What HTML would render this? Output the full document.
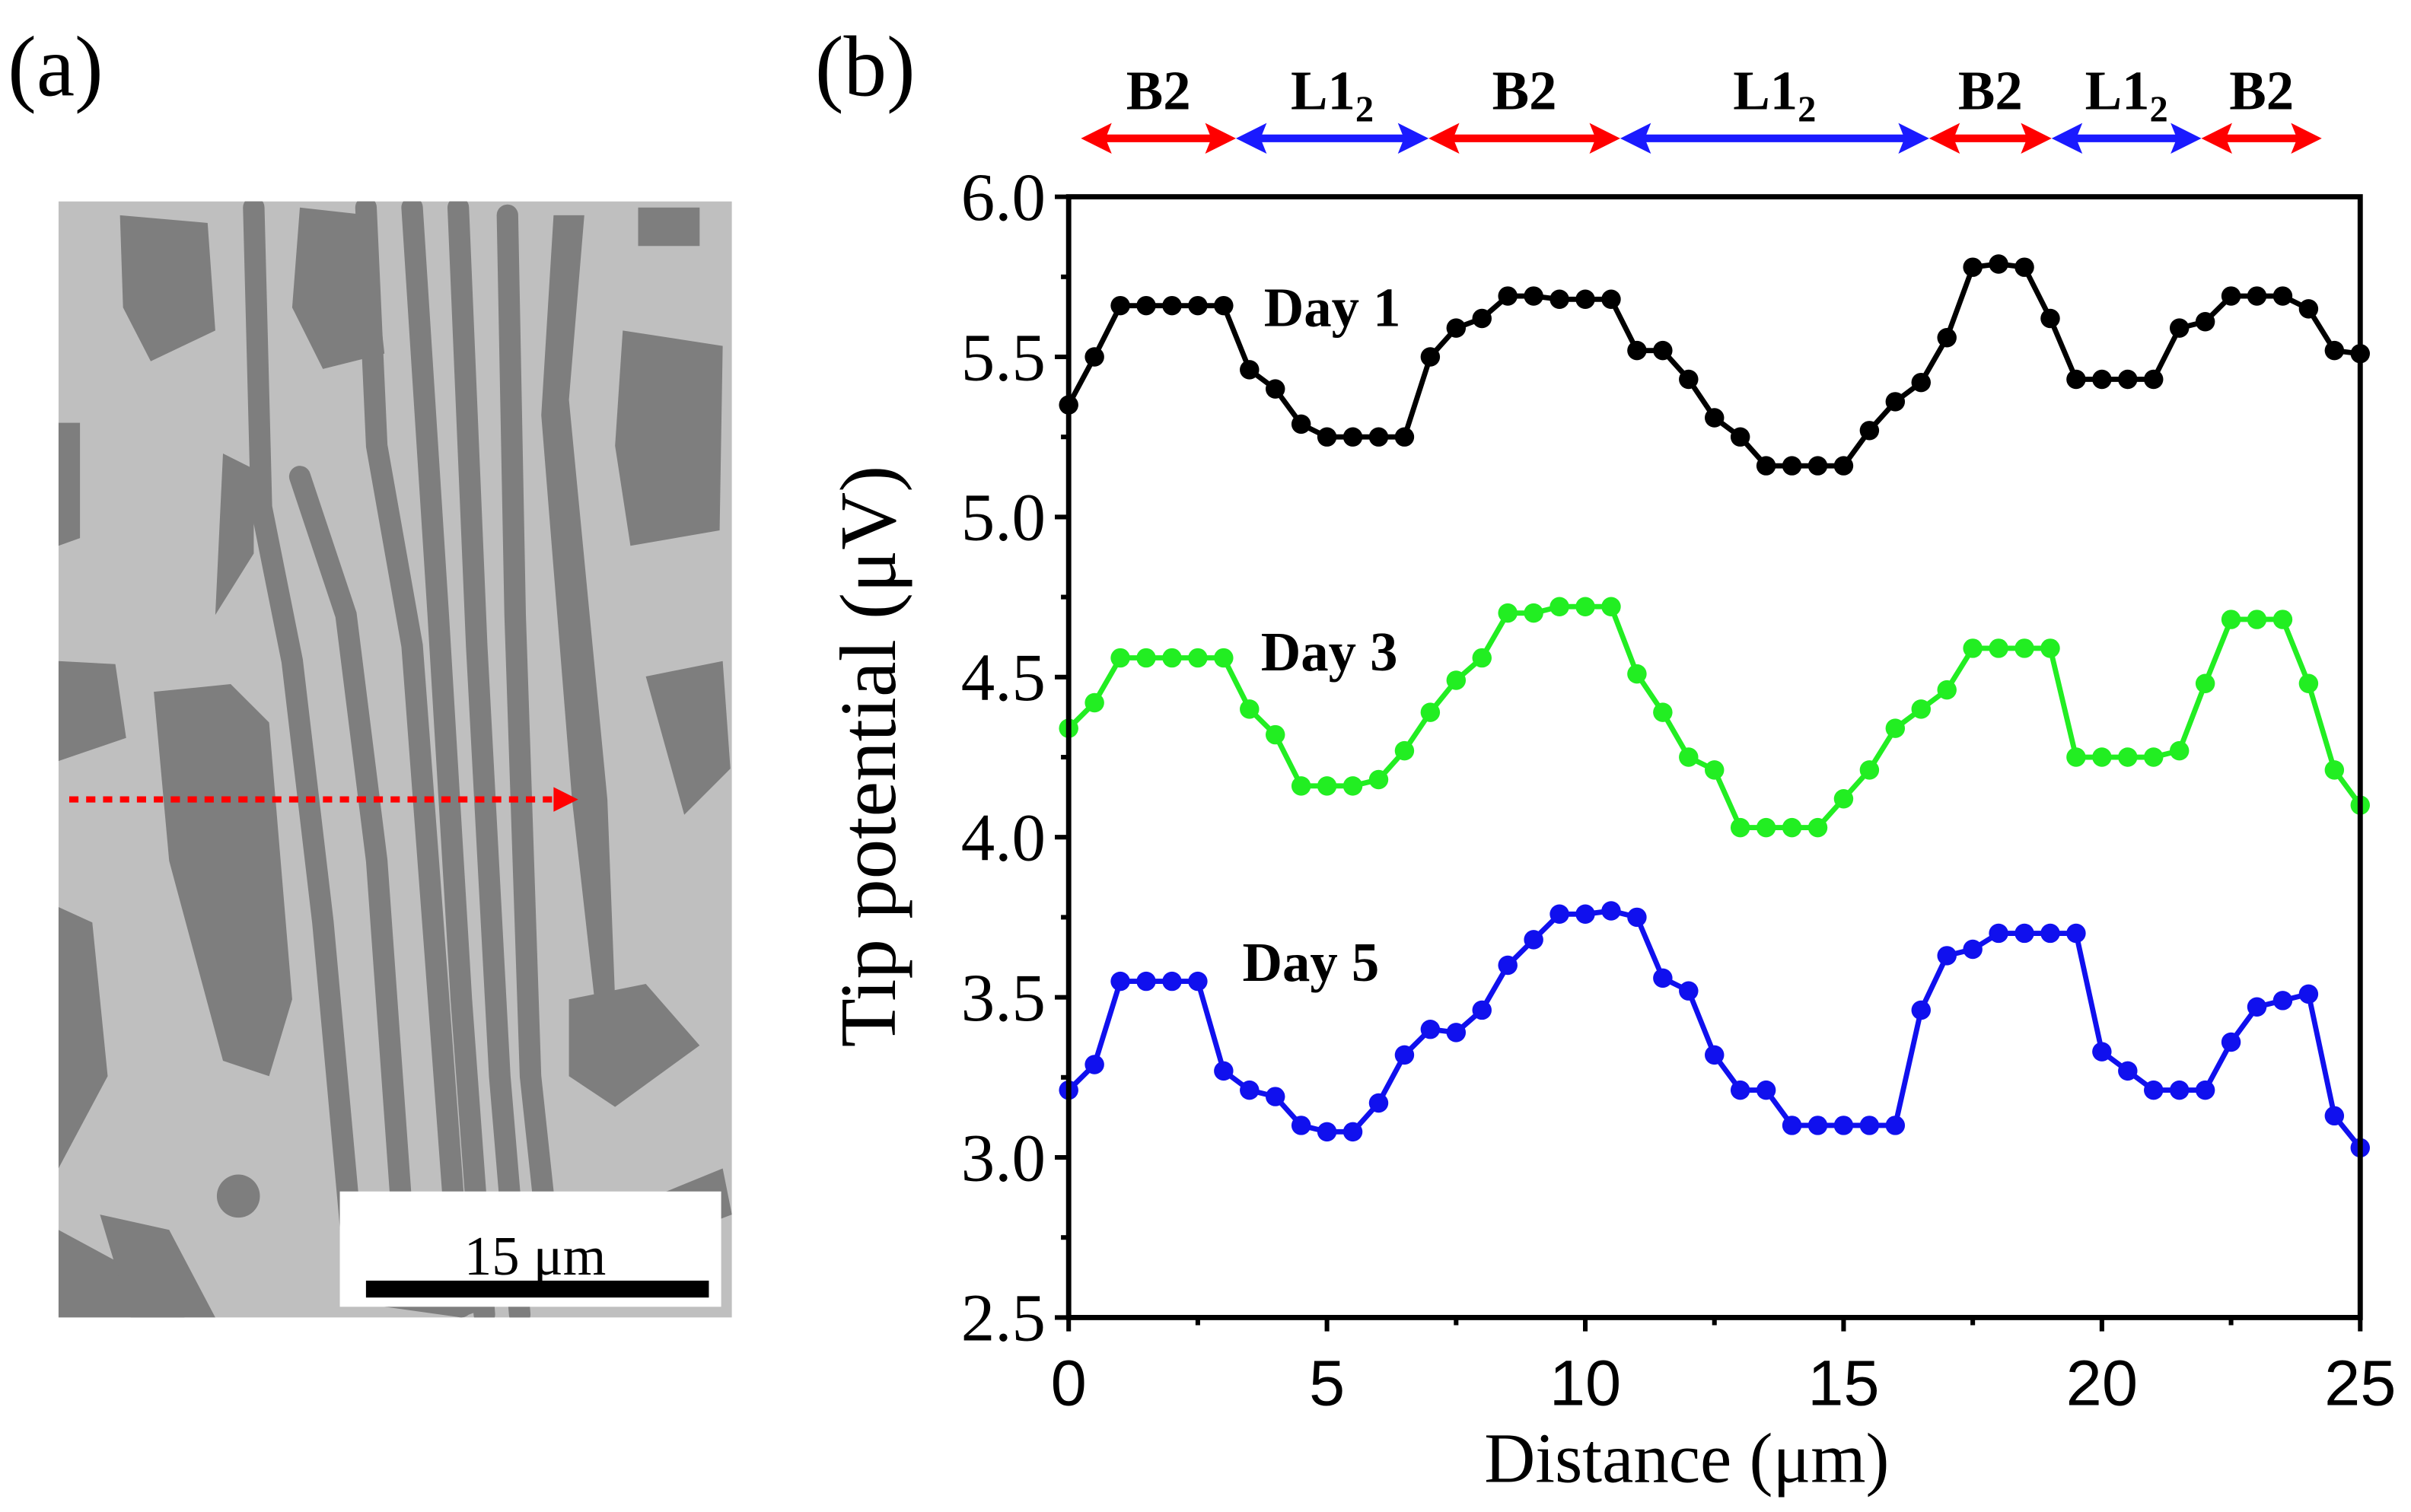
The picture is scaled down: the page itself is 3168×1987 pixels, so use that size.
<!DOCTYPE html>
<html><head><meta charset="utf-8"><style>
html,body{margin:0;padding:0;background:#fff;}
svg{display:block;}
text{font-family:"Liberation Serif",serif;}
</style></head><body>
<svg id="fig" width="3168" height="1987" viewBox="0 0 1568 983.5" xmlns="http://www.w3.org/2000/svg">
<defs><clipPath id="semclip"><rect x="38" y="131" width="438" height="726"/></clipPath></defs>
<g id="panelA">
<text x="5" y="62" font-size="56">(a)</text>
<g clip-path="url(#semclip)">
<rect x="38" y="131" width="438" height="726" fill="#bfbfbf"/>
<g fill="#7e7e7e" stroke="none">
<path d="M78 140 L135 145 L140 215 L98 235 L80 200 Z"/>
<path d="M38 275 L52 275 L52 350 L38 355 Z"/>
<path d="M38 430 L75 432 L82 480 L38 495 Z"/>
<path d="M38 590 L60 600 L70 700 L38 760 Z"/>
<path d="M38 800 L75 820 L120 857 L38 857 Z"/>
<path d="M65 790 L110 800 L140 857 L85 857 Z"/>
<path d="M195 135 L240 140 L250 230 L210 240 L190 200 Z"/>
<path d="M360 140 L380 140 L370 260 L395 520 L400 650 L390 680 L372 520 L352 270 Z"/>
<path d="M405 215 L470 225 L468 345 L410 355 L400 290 Z"/>
<path d="M420 440 L470 430 L475 500 L445 530 Z"/>
<path d="M100 450 L150 445 L175 470 L190 650 L175 700 L145 690 L110 560 Z"/>
<path d="M370 650 L420 640 L455 680 L400 720 L370 700 Z"/>
<path d="M250 850 L470 760 L476 790 L300 857 Z"/>
<ellipse cx="155" cy="778" rx="14" ry="14"/>
<path d="M145 295 L165 305 L165 360 L140 400 Z"/>
<path d="M415 135 L455 135 L455 160 L415 160 Z"/>
</g>
<g fill="none" stroke="#7e7e7e" stroke-linecap="round">
<path d="M165 135 L170 330 L190 430 L210 600 L230 820" stroke-width="14"/>
<path d="M195 310 L225 400 L245 560 L265 840" stroke-width="14"/>
<path d="M238 135 L245 290 L268 420 L283 620 L300 850" stroke-width="14"/>
<path d="M268 135 L285 400 L300 650 L315 855" stroke-width="14"/>
<path d="M298 135 L310 420 L325 700 L338 855" stroke-width="14"/>
<path d="M330 140 L335 400 L345 700 L360 840" stroke-width="14"/>
</g>
</g>
<line x1="45" y1="520" x2="362" y2="520" stroke="#ff0000" stroke-width="4" stroke-dasharray="6,5"/>
<polygon points="360,512 376,520 360,528" fill="#ff0000"/>
<rect x="221" y="775" width="248" height="75" fill="#fff"/>
<rect x="238" y="833" width="223" height="11" fill="#000"/>
<text x="348" y="829" font-size="36" text-anchor="middle">15 μm</text>
</g>
<g id="panelB">
<text x="530" y="62" font-size="56">(b)</text>
</g>
</svg>
<script>
const xDistance=[0,0.5,1,1.5,2,2.5,3,3.5,4,4.5,5,5.5,6,6.5,7,7.5,8,8.5,9,9.5,10,10.5,11,11.5,12,12.5,13,13.5,14,14.5,15,15.5,16,16.5,17,17.5,18,18.5,19,19.5,20,20.5,21,21.5,22,22.5,23,23.5,24,24.5,25];
const day1=[5.35,5.5,5.66,5.66,5.66,5.66,5.66,5.46,5.4,5.29,5.25,5.25,5.25,5.25,5.5,5.59,5.62,5.69,5.69,5.68,5.68,5.68,5.52,5.52,5.43,5.31,5.25,5.16,5.16,5.16,5.16,5.27,5.36,5.42,5.56,5.78,5.79,5.78,5.62,5.43,5.43,5.43,5.43,5.59,5.61,5.69,5.69,5.69,5.65,5.52,5.51];
const day3=[4.34,4.42,4.56,4.56,4.56,4.56,4.56,4.4,4.32,4.16,4.16,4.16,4.18,4.27,4.39,4.49,4.56,4.7,4.7,4.72,4.72,4.72,4.51,4.39,4.25,4.21,4.03,4.03,4.03,4.03,4.12,4.21,4.34,4.4,4.46,4.59,4.59,4.59,4.59,4.25,4.25,4.25,4.25,4.27,4.48,4.68,4.68,4.68,4.48,4.21,4.1];
const day5=[3.21,3.29,3.55,3.55,3.55,3.55,3.27,3.21,3.19,3.1,3.08,3.08,3.17,3.32,3.4,3.39,3.46,3.6,3.68,3.76,3.76,3.77,3.75,3.56,3.52,3.32,3.21,3.21,3.1,3.1,3.1,3.1,3.1,3.46,3.63,3.65,3.7,3.7,3.7,3.7,3.33,3.27,3.21,3.21,3.21,3.36,3.47,3.49,3.51,3.13,3.03];
const seriesNames=["Day 1","Day 3","Day 5"];
const seriesColors=["#000000","#22ee22","#1010ee"];
const yTicks=[2.5,3.0,3.5,4.0,4.5,5.0,5.5,6.0];
const yTickLabels=["2.5","3.0","3.5","4.0","4.5","5.0","5.5","6.0"];
const xTicks=[0,5,10,15,20,25];
const xTickLabels=["0","5","10","15","20","25"];
const phaseLabels=["B2","L1","B2","L1","B2","L1","B2"];
const phaseStarts=[0,1.48,3.32,5.15,8.1,9.27,10.7];
const phaseEnds=[1.48,3.32,5.15,8.1,9.27,10.7,11.85];
const NS="http://www.w3.org/2000/svg";
const L=695,R=1535,T=128,B=857;
const xMin=0,xMax=25,yMin=2.5,yMax=6.0;
function sx(v){return L+(v-xMin)/(xMax-xMin)*(R-L);}
function sy(v){return B-(v-yMin)/(yMax-yMin)*(B-T);}
function px(v){return 703+v*(1510-703)/11.85;}
const g=document.getElementById('panelB');
function mk(tag,attrs,parent){const e=document.createElementNS(NS,tag);for(const k in attrs)e.setAttribute(k,attrs[k]);(parent||g).appendChild(e);return e;}
const all=[day1,day3,day5];
all.forEach((vals,si)=>{
 const sg=mk('g',{});
 
 
 const pts=vals.map((v,i)=>sx(xDistance[i]).toFixed(1)+','+sy(v).toFixed(1)).join(' ');
 const pl=mk('polyline',{points:pts,fill:'none',stroke:seriesColors[si],'stroke-width':3.4},sg);
 
 
 vals.forEach((v,i)=>{
  const c=mk('circle',{cx:sx(xDistance[i]),cy:sy(v),r:6.3,fill:seriesColors[si]},sg);
  
  
 });
});
const dayLabelX=[822,820,808],dayLabelY=[212,436,638];
seriesNames.forEach((n,i)=>{
 const t=mk('text',{x:dayLabelX[i],y:dayLabelY[i],'font-size':36,'font-weight':'bold'});
 t.textContent=n;
 
 
});
const fr=mk('rect',{x:L,y:T,width:R-L,height:B-T,fill:'none',stroke:'#000','stroke-width':3.4});


for(let v=yMin;v<=yMax+1e-9;v+=0.25){
 const major=Math.abs(v*2-Math.round(v*2))<1e-6;
 const tk=mk('line',{x1:L,x2:L-(major?9:5),y1:sy(v),y2:sy(v),stroke:'#000','stroke-width':3});
 
 
}
yTicks.forEach((v,i)=>{
 const t=mk('text',{x:680,y:sy(v)+15,'font-size':44,'text-anchor':'end'});
 t.textContent=yTickLabels[i];
 
 
});
for(let v=xMin;v<=xMax+1e-9;v+=2.5){
 const major=Math.abs(v/5-Math.round(v/5))<1e-6;
 const tk=mk('line',{x1:sx(v),x2:sx(v),y1:B,y2:B+(major?9:5),stroke:'#000','stroke-width':3});
 
 
}
xTicks.forEach((v,i)=>{
 const t=mk('text',{x:sx(v),y:914,'font-size':42,'text-anchor':'middle','style':'font-family:"Liberation Sans",sans-serif'});
 t.textContent=xTickLabels[i];
 
 
});
const xt=mk('text',{x:1097,y:964,'font-size':46,'text-anchor':'middle'});
xt.textContent='Distance (μm)';


const yt=mk('text',{x:0,y:0,'font-size':52,'text-anchor':'middle',transform:'translate(582,492) rotate(-90)'});
yt.textContent='Tip potential (μV)';


phaseLabels.forEach((lab,i)=>{
 const x1=px(phaseStarts[i]),x2=px(phaseEnds[i]);
 const col=lab==='B2'?'#ff0000':'#1a1aff';
 const ag=mk('g',{});
 
 
 const y=90;
 mk('line',{x1:x1+12,x2:x2-12,y1:y,y2:y,stroke:col,'stroke-width':5},ag);
 mk('polygon',{points:`${x1},${y} ${x1+20},${y-10} ${x1+16},${y} ${x1+20},${y+10}`,fill:col},ag);
 mk('polygon',{points:`${x2},${y} ${x2-20},${y-10} ${x2-16},${y} ${x2-20},${y+10}`,fill:col},ag);
 const t=mk('text',{x:(x1+x2)/2,y:71,'font-size':36,'font-weight':'bold','text-anchor':'middle'},ag);
 t.textContent=lab;
 if(lab==='L1'){const s=mk('tspan',{'font-size':24,dy:8},t);s.textContent='2';}
 
 
});
</script>
</body></html>
